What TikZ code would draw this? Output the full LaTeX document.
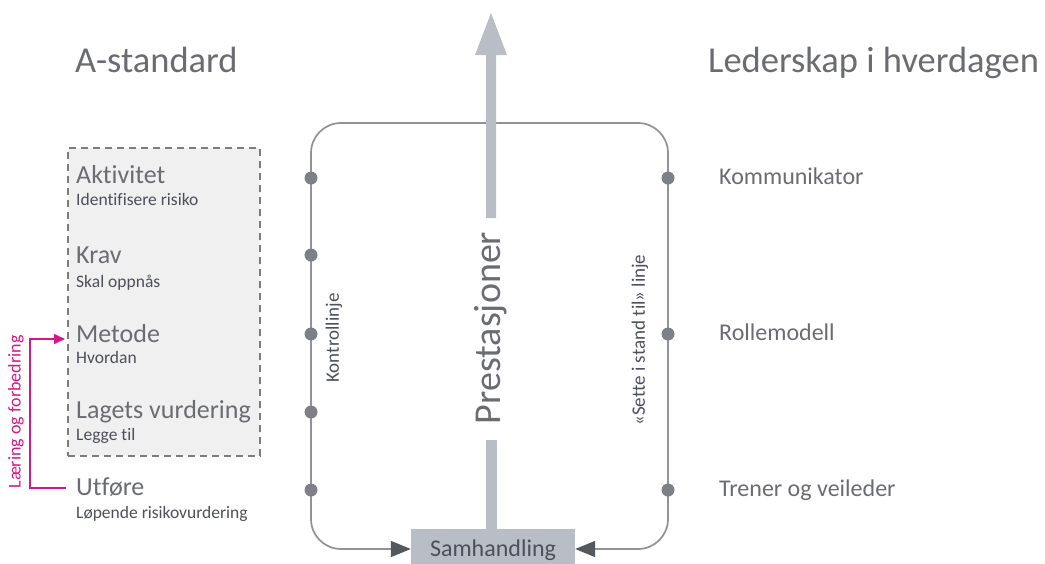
\documentclass[tikz,border=0pt]{standalone}
\usepackage{fontspec}
\setmainfont{Carlito}[Ligatures=NoCommon]
\usetikzlibrary{arrows.meta}
\definecolor{headc}{HTML}{6A6C72}
\definecolor{subc}{HTML}{4C4F5C}
\definecolor{linec}{HTML}{909298}
\definecolor{dotc}{HTML}{7E8088}
\definecolor{arrowc}{HTML}{B9BDC5}
\definecolor{tipc}{HTML}{55575E}
\definecolor{boxfill}{HTML}{F0F0F0}
\definecolor{dashc}{HTML}{7C7C7C}
\definecolor{magc}{HTML}{D6168B}
\tikzset{
  heading/.style={anchor=base west, inner sep=0pt, text=headc, font=\fontsize{36.5}{40}\selectfont},
  mainlbl/.style={anchor=base west, inner sep=0pt, text=headc, font=\fontsize{26}{30}\selectfont},
  sublbl/.style={anchor=base west, inner sep=0pt, text=subc, font=\fontsize{17.5}{20}\selectfont},
  rightlbl/.style={anchor=base west, inner sep=0pt, text=headc, font=\fontsize{24}{28}\selectfont},
  dot/.style={circle, fill=dotc, inner sep=0pt, minimum size=13pt},
  frame/.style={draw=linec, line width=1.7pt, rounded corners=30pt},
  sidelbl/.style={rotate=90, inner sep=0pt, text=subc, font=\fontsize{19}{22}\selectfont},
}
\begin{document}
\begin{tikzpicture}[x=1pt,y=-1pt]
\useasboundingbox (0,0) rectangle (1045,563);
% headings
\node[heading] (hA) at (75,72) {A-standard};
\node[heading] (hL) at (708,72) {Lederskap i hverdagen};
% dashed box
\node[draw=dashc, dashed, dash pattern=on 7pt off 5pt, line width=1.2pt, fill=boxfill,
      minimum width=192pt, minimum height=308pt, inner sep=0pt] (abox) at (164,302) {};
% left labels
\node[mainlbl] (akt) at (76,183) {Aktivitet};
\node[sublbl] (akts) at (76,205) {Identifisere risiko};
\node[mainlbl] (krav) at (76,263) {Krav};
\node[sublbl] (kravs) at (76,287) {Skal oppnås};
\node[mainlbl] (met) at (76,342) {Metode};
\node[sublbl] (mets) at (76,363) {Hvordan};
\node[mainlbl] (lag) at (76,418) {Lagets vurdering};
\node[sublbl] (lags) at (76,440) {Legge til};
\node[mainlbl] (utf) at (76,495) {Utføre};
\node[sublbl] (utfs) at (76,518) {Løpende risikovurdering};
% magenta loop
\coordinate (mA) at (66,488);
\coordinate (mC) at (30,488);
\coordinate (mB) at (65,339);
\draw[magc, line width=1.6pt, -{Triangle[length=11pt,width=10pt]}] (mA) -- (mC) |- (mB);
\node[sidelbl, text=magc, font=\fontsize{18}{20}\selectfont] (laer) at (16,412) {Læring og forbedring};
% samhandling box
\node[fill=arrowc, minimum width=164pt, minimum height=40pt, inner sep=0pt] (samh) at (493,549) {};
\node[text=subc, font=\fontsize{24}{28}\selectfont, anchor=base, inner sep=0pt] (samht) at (493,556) {Samhandling};
% frame
\coordinate (topmid) at (491,123);
\draw[frame, -{Triangle[length=20pt,width=16pt,color=tipc]}] (topmid) -- (311,123) -- (311,549) -- (samh.west);
\draw[frame, -{Triangle[length=20pt,width=16pt,color=tipc]}] (topmid) -- (668,123) -- (668,549) -- (samh.east);
% dots
\foreach \y/\n in {178/1,255/2,334/3,412/4,490/5} {\node[dot] (ld\n) at (311,\y) {};}
\foreach \y/\n in {178/1,334/3,490/5} {\node[dot] (rd\n) at (668,\y) {};}
% main arrow
\fill[arrowc] (486,218) -- (486,55) -- (475,55) -- (491,13) -- (507,55) -- (496,55) -- (496,218) -- cycle;
\fill[arrowc] (486,440) rectangle (497,529);
\node[rotate=90, inner sep=0pt, text=headc, font=\fontsize{38}{42}\selectfont] (prest) at (491,328) {Prestasjoner};
% side labels
\node[sidelbl] (kontr) at (334,338) {Kontrollinje};
\node[sidelbl] (sette) at (640,340) {«Sette i stand til» linje};
% right labels
\node[rightlbl] (komm) at (719,184) {Kommunikator};
\node[rightlbl] (rolle) at (719,340) {Rollemodell};
\node[rightlbl] (tren) at (719,496) {Trener og veileder};
\end{tikzpicture}
\end{document}
